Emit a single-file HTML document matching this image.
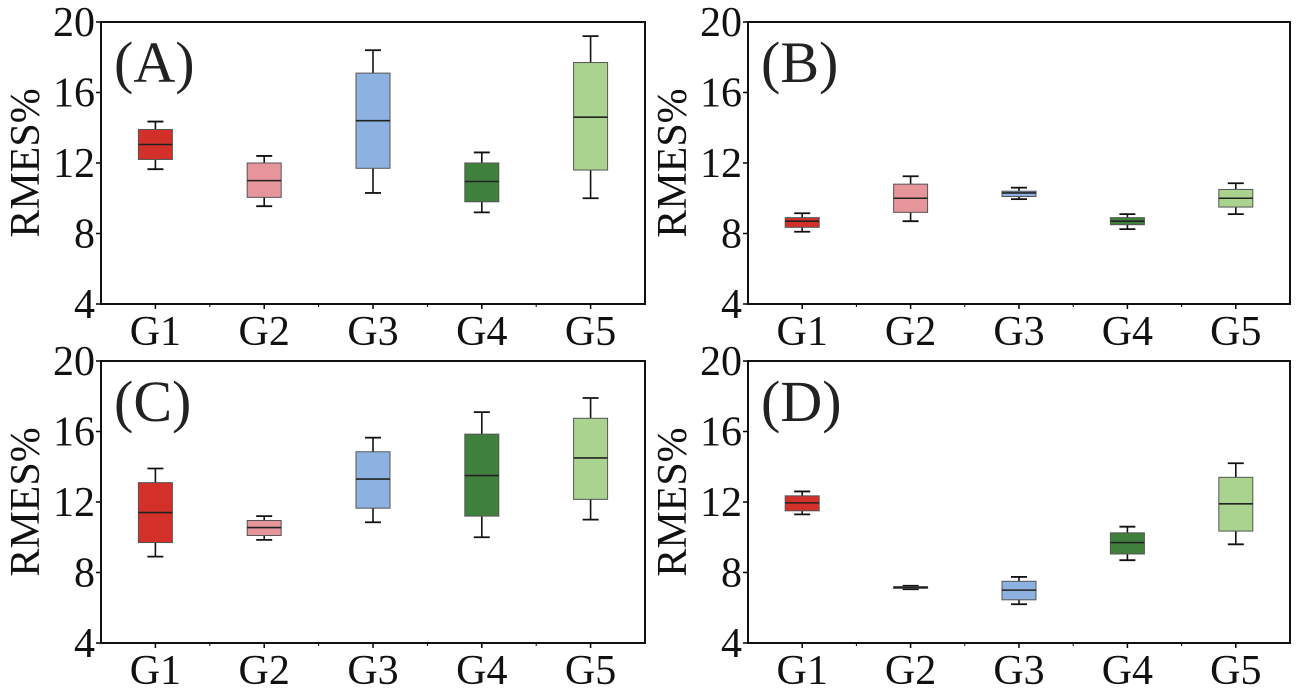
<!DOCTYPE html>
<html><head><meta charset="utf-8"><style>
body{margin:0;background:#fff;}
svg{display:block;}
svg text{font-family:"Liberation Serif","Times New Roman",serif;}
</style></head><body>
<svg id="fig" width="1301" height="694" viewBox="0 0 1301 694"></svg>
<script>
const categories = ["G1","G2","G3","G4","G5"];
const yTicks = [4,8,12,16,20];
const colors = ["#d3302a","#e6959b","#8db2e2","#3f813c","#a9d38f"];
const panelLabels = ["(A)","(B)","(C)","(D)"];
// each group: [whiskerLow, q1, median, q3, whiskerHigh]
const panelA = [[11.65,12.2,13.05,13.9,14.35],[9.55,10.05,11.0,12.0,12.4],[10.3,11.7,14.4,17.1,18.4],[9.2,9.8,10.95,12.0,12.6],[10.0,11.6,14.6,17.7,19.2]];
const panelB = [[8.1,8.35,8.7,8.9,9.15],[8.7,9.2,10.0,10.8,11.25],[9.95,10.1,10.3,10.4,10.6],[8.25,8.5,8.7,8.9,9.1],[9.1,9.5,10.0,10.5,10.85]];
const panelC = [[8.9,9.7,11.4,13.1,13.9],[9.85,10.1,10.55,10.95,11.2],[10.85,11.65,13.3,14.85,15.65],[10.0,11.2,13.5,15.85,17.1],[11.0,12.15,14.5,16.75,17.9]];
const panelD = [[11.3,11.5,11.95,12.35,12.6],[7.05,7.1,7.15,7.2,7.25],[6.2,6.45,7.0,7.5,7.75],[8.7,9.05,9.7,10.25,10.6],[9.6,10.35,11.9,13.4,14.2]];
const panels = [panelA,panelB,panelC,panelD];

const NS="http://www.w3.org/2000/svg";
const svg=document.getElementById('fig');
const FF='"Liberation Serif", serif';
function mk(tag,attrs,parent){const e=document.createElementNS(NS,tag);for(const k in attrs)e.setAttribute(k,attrs[k]);if(tag==='text')e.setAttribute('font-family',FF);(parent||svg).appendChild(e);return e;}
const frames=[{x0:101,x1:645,y0:22,y1:304},{x0:748,x1:1290,y0:22,y1:304},{x0:101,x1:645,y0:361,y1:643},{x0:748,x1:1290,y0:361,y1:643}];

panels.forEach((data,p)=>{
  const f=frames[p];
  const g=mk('g',{});
  
  
  const y=v=>f.y1-(v-4)/16*(f.y1-f.y0);
  const bw=(f.x1-f.x0)/5;
  const x=i=>f.x0+(i+0.5)*bw;
  yTicks.forEach(t=>{
    const tk=mk('line',{x1:f.x0-5,x2:f.x0,y1:y(t),y2:y(t),stroke:'#000','stroke-width':1.5},g);
    
    
    const tl=mk('text',{x:f.x0-6,y:y(t)+14,'text-anchor':'end','font-size':42,fill:'#111'},g);
    tl.textContent=t;
    
    
  });
  categories.forEach((c,i)=>{
    const tk=mk('line',{x1:x(i),x2:x(i),y1:f.y1,y2:f.y1+5,stroke:'#000','stroke-width':1.5},g);
    
    
    if(i>0){const mt=mk('line',{x1:f.x0+i*bw,x2:f.x0+i*bw,y1:f.y1,y2:f.y1+3,stroke:'#000','stroke-width':1},g);
      
      }
    const tl=mk('text',{x:x(i),y:f.y1+41,'text-anchor':'middle','font-size':42,fill:'#111'},g);
    tl.textContent=c;
    
    
  });
  const cy=(f.y0+f.y1)/2, cx=f.x0-62;
  const yt=mk('text',{x:cx,y:cy,'text-anchor':'middle','font-size':42,fill:'#111',transform:`rotate(-90 ${cx} ${cy})`},g);
  yt.textContent='RMES%';
  
  
  data.forEach((d,i)=>{
    const bx=x(i), hw=17, cw=8;
    const bg=mk('g',{},g);
    
    
    mk('line',{x1:bx,x2:bx,y1:y(d[4]),y2:y(d[3]),stroke:'#111','stroke-width':1.6},bg);
    mk('line',{x1:bx,x2:bx,y1:y(d[1]),y2:y(d[0]),stroke:'#111','stroke-width':1.6},bg);
    mk('line',{x1:bx-cw,x2:bx+cw,y1:y(d[4]),y2:y(d[4]),stroke:'#111','stroke-width':1.8},bg);
    mk('line',{x1:bx-cw,x2:bx+cw,y1:y(d[0]),y2:y(d[0]),stroke:'#111','stroke-width':1.8},bg);
    mk('rect',{x:bx-hw,y:y(d[3]),width:2*hw,height:Math.max(1,y(d[1])-y(d[3])),fill:colors[i],stroke:'#555','stroke-width':1},bg);
    mk('line',{x1:bx-hw,x2:bx+hw,y1:y(d[2]),y2:y(d[2]),stroke:'#222','stroke-width':1.6},bg);
  });
  const fr=mk('rect',{x:f.x0,y:f.y0,width:f.x1-f.x0,height:f.y1-f.y0,fill:'none',stroke:'#111','stroke-width':2},g);
  
  
  const pl=mk('text',{x:f.x0+13,y:f.y0+60,'font-size':58,fill:'#222'},g);
  pl.textContent=panelLabels[p];
  
  
});
</script>
</body></html>
